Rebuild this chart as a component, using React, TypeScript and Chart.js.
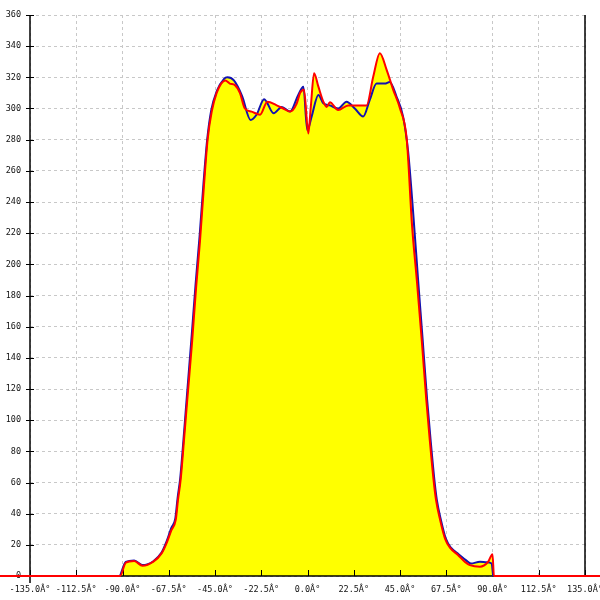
import React, { useEffect, useRef } from "react";
import { Chart, registerables } from "chart.js";

Chart.register(...registerables);

const X_MIN = -135;
const X_MAX = 135;
const X_STEP = 22.5;
const Y_MIN = 0;
const Y_MAX = 360;
const Y_STEP = 20;

const redAngles = [
  -150, -91.2, -88.4, -84.3, -80.3, -75.0, -71.0, -68.6, -66.2, -64.1, -63.0, -61.7, -60.1, -58.5, -56.1,
  -54.2, -52.3, -50.4, -48.6, -46.6, -44.2, -42.0, -40.0, -37.8, -35.3, -32.9, -30.5, -27.2, -23.1,
  -19.5, -15.0, -11.8, -8.5, -5.3, -3.6, -1.7, 0.4, 1.6, 3.2, 5.3, 7.7, 9.3, 10.9, 14.9, 19.8, 28.7,
  32.0, 35.2, 38.5, 41.7, 45.0, 48.3, 50.8, 53.3, 55.6, 57.8, 59.5, 61.3, 62.5, 64.5, 66.9, 69.4,
  73.2, 76.6, 79.0, 83.9, 87.8, 90.0, 90.7, 150,
];
const redValues = [
  0, 0, 8.5, 9.6, 6.6, 9.2, 14.5, 21, 29.5, 36, 49, 62, 87, 113, 151,
  185, 215, 250, 280, 298, 310, 316, 318, 316, 315, 310, 300, 298, 296,
  304.4, 302, 300, 298, 303, 310, 312, 284, 301, 322.6, 314, 304.4, 301, 304, 299, 302, 302,
  320.5, 335.5, 324.8, 312, 300, 280, 226, 188, 151, 113, 87, 62, 49, 36, 24, 18,
  13.5, 9, 7, 6, 9, 14, 0, 0,
];

const blueAngles = [
  -91.2, -88.4, -84.3, -80.3, -75.0, -71.0, -68.6, -66.2, -64.3, -63.2, -61.9, -60.3, -58.7, -56.3,
  -54.4, -52.5, -50.6, -48.8, -46.8, -44.2, -40.6, -39.0, -35.8, -31.8, -27.7, -24.8, -21.1, -16.5,
  -12.5, -8.5, -4.5, -2.0, -0.1, 2.0, 5.3, 7.7, 10.9, 14.9, 19.0, 23.0, 27.1, 30.3, 33.6, 37.6, 40.0,
  43.3, 46.5, 48.9, 51.3, 53.8, 56.0, 58.2, 59.9, 61.7, 62.9, 64.9, 67.3, 69.9, 73.5, 77.2, 79.5,
  83.9, 87.1, 89.6, 90.3,
];
const blueValues = [
  0, 9, 10, 7, 9.5, 15, 22, 31, 37, 50, 63, 88, 115, 155,
  188, 218, 252, 280, 299, 311, 319, 320, 318, 308, 292.7, 296, 306, 297,
  301, 298, 308.7, 314, 286, 294.8, 308.7, 303.4, 302, 300, 304.4, 300, 294.8, 305.5, 316, 316, 317,
  307.7, 294.8, 273, 235, 190, 152, 113, 87, 62, 49, 36, 24, 18, 14, 10, 8,
  9.2, 8.8, 8, 0,
];

const formatAngle = (v: number) => v.toFixed(1) + "Â°";

const axisPlugin = {
  id: "axisLines",
  beforeDatasetsDraw(chart: any) {
    const { ctx, chartArea: a, scales } = chart;
    ctx.save();
    ctx.strokeStyle = "#000";
    ctx.lineWidth = 1.5;
    const line = (x1: number, y1: number, x2: number, y2: number) => {
      ctx.beginPath();
      ctx.moveTo(x1, y1);
      ctx.lineTo(x2, y2);
      ctx.stroke();
    };
    line(a.left, a.top, a.left, a.bottom + 7);
    line(a.right, a.top, a.right, a.bottom);
    line(a.left, a.bottom, a.right, a.bottom);
    ctx.lineWidth = 1;
    for (const t of scales.y.ticks) {
      const y = Math.round(scales.y.getPixelForValue(t.value)) + 0.5;
      line(a.left - 4, y, a.left + 4, y);
    }
    for (const t of scales.x.ticks) {
      const x = Math.round(scales.x.getPixelForValue(t.value)) + 0.5;
      line(x, a.bottom - 6, x, a.bottom);
    }
    ctx.restore();
  },
};

export default function App() {
  const ref = useRef<HTMLCanvasElement>(null);
  useEffect(() => {
    if (!ref.current) return;
    const chart = new Chart(ref.current, {
      type: "line",
      data: {
        datasets: [
          {
            label: "red",
            data: redAngles.map((x, i) => ({ x, y: redValues[i] })),
            borderColor: "#ff0000",
            backgroundColor: "#ffff00",
            borderWidth: 2,
            pointRadius: 0,
            fill: "origin",
            cubicInterpolationMode: "monotone",
            clip: false as any,
          },
          {
            label: "blue",
            data: blueAngles.map((x, i) => ({ x, y: blueValues[i] })),
            borderColor: "#1212b0",
            backgroundColor: "#ffff00",
            borderWidth: 2,
            pointRadius: 0,
            fill: "origin",
            cubicInterpolationMode: "monotone",
          },
        ],
      },
      options: {
        animation: false,
        responsive: false,
        layout: { padding: { top: 15, right: 15, left: 0, bottom: 0 } },
        plugins: {
          legend: { display: false },
          tooltip: { enabled: false },
          filler: { drawTime: "beforeDatasetsDraw" } as any,
        },
        scales: {
          x: {
            type: "linear",
            min: X_MIN,
            max: X_MAX,
            border: { display: false, dash: [3, 3] },
            grid: { color: "#c8c8c8", lineWidth: 1, drawTicks: false },
            ticks: {
              stepSize: X_STEP,
              padding: 9,
              maxRotation: 0,
              autoSkip: false,
              color: "#111",
              font: { family: "DejaVu Sans Mono", size: 8.5 },
              callback: (v: any) => formatAngle(Number(v)),
            },
            afterFit: (s: any) => {
              s.height = 24;
              s.paddingLeft = 0;
              s.paddingRight = 0;
            },
          },
          y: {
            type: "linear",
            min: Y_MIN,
            max: Y_MAX,
            border: { display: false, dash: [3, 3] },
            grid: { color: "#c8c8c8", lineWidth: 1, drawTicks: false },
            ticks: {
              stepSize: Y_STEP,
              padding: 9,
              color: "#111",
              font: { family: "DejaVu Sans Mono", size: 8.5 },
            },
            afterFit: (s: any) => {
              s.width = 30;
              s.paddingTop = 0;
              s.paddingBottom = 0;
            },
          },
        },
      },
      plugins: [axisPlugin],
    });
    return () => chart.destroy();
  }, []);
  return (
    <div style={{ position: "absolute", left: 0, top: 0, width: 600, height: 600, background: "#fff" }}>
      <canvas ref={ref} width={600} height={600} style={{ display: "block" }} />
    </div>
  );
}
